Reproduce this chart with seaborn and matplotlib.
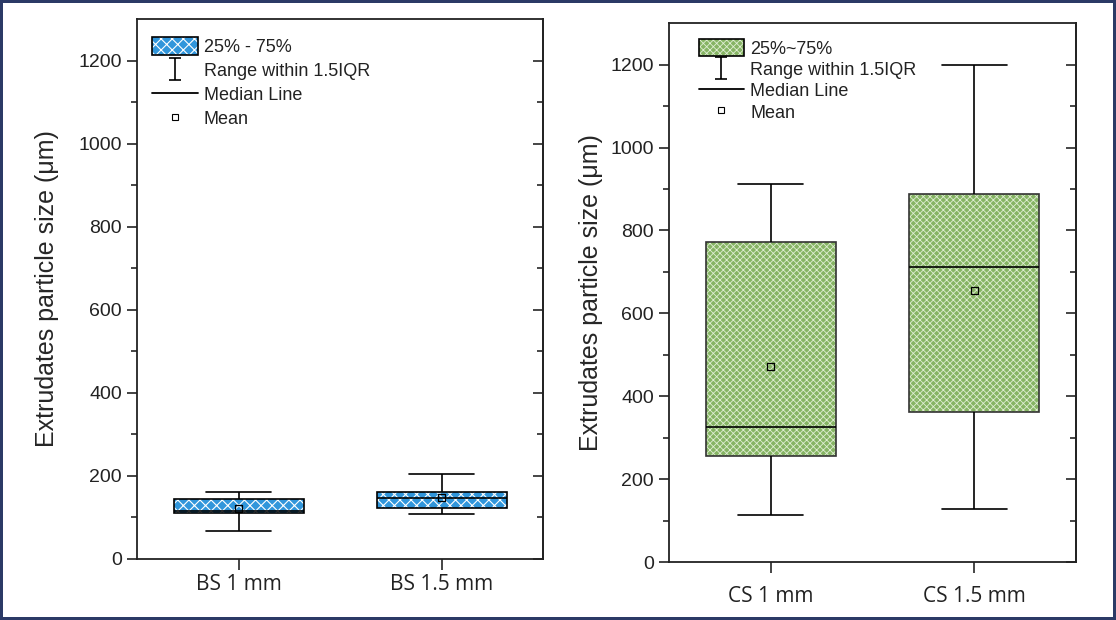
import numpy as np
import pandas as pd
import matplotlib
matplotlib.use("Agg")
import matplotlib.pyplot as plt
import matplotlib.patches as mpatches
from matplotlib.lines import Line2D
from matplotlib.path import Path
from matplotlib import font_manager
import seaborn as sns

# ---------------- data ----------------
bs_cats = ["BS 1 mm", "BS 1.5 mm"]
bs_low = [68, 108]
bs_q1 = [111, 123]
bs_median = [116, 147]
bs_q3 = [144, 161]
bs_high = [162, 204]
bs_mean = [122, 148]

cs_cats = ["CS 1 mm", "CS 1.5 mm"]
cs_low = [113, 128]
cs_q1 = [255, 361]
cs_median = [325, 713]
cs_q3 = [771, 887]
cs_high = [913, 1200]
cs_mean = [472, 655]

y_ticks = [0, 200, 400, 600, 800, 1000, 1200]
y_label = "Extrudates particle size (μm)"
legend_left = ["25% - 75%", "Range within 1.5IQR", "Median Line", "Mean"]
legend_right = ["25%~75%", "Range within 1.5IQR", "Median Line", "Mean"]

# ---------------- style ----------------
sns.set_theme(style="white")
plt.rcParams["font.family"] = ["Liberation Sans", "DejaVu Sans"]

names = {f.name for f in font_manager.fontManager.ttflist}
narrow = "Liberation Sans Narrow" if "Liberation Sans Narrow" in names else "Open Sans"

BLUE = "#3196db"
GREEN = "#86b464"
BORDER = "#2b3a66"


def five_num_frame(cats, lo, q1, med, q3, hi):
    rows = []
    for c, a, b, m, d, e in zip(cats, lo, q1, med, q3, hi):
        for v in (a, b, m, d, e):
            rows.append({"cat": c, "val": v})
    return pd.DataFrame(rows)


err_path = Path(
    [(-0.5, -1), (0.5, -1), (0, -1), (0, 1), (-0.5, 1), (0.5, 1)],
    [Path.MOVETO, Path.LINETO, Path.MOVETO, Path.LINETO, Path.MOVETO, Path.LINETO],
)


def style_hatch(p, hatch, hatch_col, hlw):
    p.set_hatch(hatch)
    p._hatch_color = matplotlib.colors.to_rgba(hatch_col)
    if hasattr(p, "set_hatch_linewidth"):
        p.set_hatch_linewidth(hlw)


def panel(ax, cats, lo, q1, med, q3, hi, means, color, hatch, hatch_col, hlw,
          box_edge, labels, leg_anchor, leg_spacing, xpad, ylpad):
    plt.rcParams["hatch.linewidth"] = hlw
    df = five_num_frame(cats, lo, q1, med, q3, hi)
    sns.boxplot(data=df, x="cat", y="val", order=cats, ax=ax, color=color,
                width=0.64, whis=(0, 100), linecolor="black", linewidth=1.2,
                saturation=1, showfliers=False)
    for p in ax.patches:
        p.set_facecolor(color)
        p.set_edgecolor(box_edge)
        style_hatch(p, hatch, hatch_col, hlw)
    sns.scatterplot(x=cats, y=means, ax=ax, marker="s", s=26,
                    facecolor="none", edgecolor="black", linewidth=0.9,
                    zorder=5, legend=False)

    ax.set_xlim(-0.5, 1.5)
    ax.set_ylim(0, 1300)
    ax.set_yticks(y_ticks)
    ax.set_yticks(np.arange(100, 1300, 200), minor=True)
    ax.set_xlabel("")
    ax.set_ylabel(y_label, fontsize=18, labelpad=ylpad)
    for s in ax.spines.values():
        s.set_visible(True)
        s.set_color("#222222")
        s.set_linewidth(1.3)
    ax.tick_params(axis="y", which="major", direction="out", length=7,
                   width=1.2, labelsize=14, left=True, pad=4, colors="#222222")
    ax.tick_params(axis="y", which="minor", direction="out", length=4,
                   width=1.2, left=True)
    ax.tick_params(axis="x", which="major", direction="out", length=8,
                   width=1.2, bottom=True, pad=xpad)
    for t in ax.get_xticklabels():
        t.set_fontfamily(narrow)
        t.set_fontsize(15)
        t.set_color("#222222")
    for t in ax.get_yticklabels():
        t.set_color("#222222")

    sec = ax.secondary_yaxis("right")
    sec.set_yticks(y_ticks)
    sec.set_yticks(np.arange(100, 1300, 200), minor=True)
    sec.tick_params(axis="y", which="major", direction="in", length=7,
                    width=1.2, labelright=False)
    sec.tick_params(axis="y", which="minor", direction="in", length=4,
                    width=1.2)
    sec.spines["right"].set_linewidth(1.3)
    sec.spines["right"].set_color("#222222")

    handles = [
        mpatches.Patch(facecolor=color, edgecolor="black", hatch=hatch,
                       linewidth=1.2),
        Line2D([], [], marker=err_path, markersize=16, linestyle="none",
               color="black", markeredgewidth=1.2),
        Line2D([], [], color="black", linewidth=1.3),
        Line2D([], [], marker="s", markersize=4.5, linestyle="none",
               markerfacecolor="none", markeredgecolor="black",
               markeredgewidth=0.8),
    ]
    leg = ax.legend(handles, labels, loc="upper left", frameon=False,
                    fontsize=13, handlelength=2.5, handleheight=1.15,
                    labelspacing=leg_spacing, handletextpad=0.35,
                    borderaxespad=0.0, bbox_to_anchor=leg_anchor)
    for p in leg.get_patches():
        style_hatch(p, hatch, hatch_col, hlw)
    for t in leg.get_texts():
        t.set_color("#222222")


fig = plt.figure(figsize=(11.16, 6.2), dpi=100, facecolor="white",
                 edgecolor=BORDER, linewidth=3)
ax1 = fig.add_axes([0.1228, 0.0984, 0.3638, 0.871])
ax2 = fig.add_axes([0.5995, 0.0935, 0.3647, 0.869])

panel(ax1, bs_cats, bs_low, bs_q1, bs_median, bs_q3, bs_high, bs_mean,
      BLUE, "xxx", "white", 0.8, "black", legend_left, (0.02, 0.98), 0.28, 3, 14)
panel(ax2, cs_cats, cs_low, cs_q1, cs_median, cs_q3, cs_high, cs_mean,
      GREEN, "xxxxx", "#dfeed3", 0.6, "#333333", legend_right, (0.055, 0.985),
      0.13, 9, 5)

fig.savefig("out.png", dpi=100, facecolor="white", edgecolor=BORDER)
